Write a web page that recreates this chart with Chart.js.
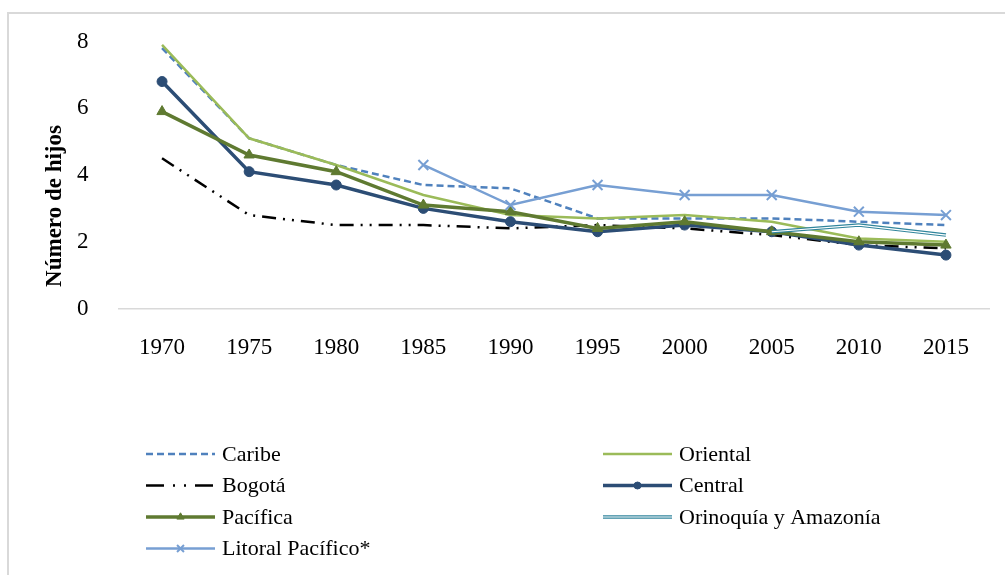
<!DOCTYPE html>
<html>
<head>
<meta charset="utf-8">
<script src="https://cdn.jsdelivr.net/npm/chart.js@4.4.1/dist/chart.umd.min.js"></script>
<style>
    html, body { margin: 0; padding: 0; background: #fff; overflow: hidden; }
    #frame {
        position: absolute;
        left: 7px;
        top: 12px;
        width: 1020px;
        height: 620px;
        border: 2px solid #d9d9d9;
    }
    #wrap { position: absolute; left: 0; top: 0; width: 1005px; height: 575px; }
</style>
</head>
<body>
<div id="frame"></div>
<div id="wrap"><canvas id="lineChart" width="1005" height="575"></canvas></div>
<script>
const years = ['1970', '1975', '1980', '1985', '1990', '1995', '2000', '2005', '2010', '2015'];
const yTicks = [0, 2, 4, 6, 8];

const caribe    = [7.8, 5.1, 4.3, 3.7, 3.6, 2.7, 2.7, 2.7, 2.6, 2.5];
const oriental  = [7.9, 5.1, 4.3, 3.4, 2.8, 2.7, 2.8, 2.6, 2.1, 2.0];
const bogota    = [4.5, 2.8, 2.5, 2.5, 2.4, 2.5, 2.4, 2.2, 1.9, 1.8];
const central   = [6.8, 4.1, 3.7, 3.0, 2.6, 2.3, 2.5, 2.3, 1.9, 1.6];
const pacifica  = [5.9, 4.6, 4.1, 3.1, 2.9, 2.4, 2.6, 2.3, 2.0, 1.9];
const orinoquia = [null, null, null, null, null, null, null, 2.3, 2.5, 2.2];
const litoral   = [null, null, null, 4.3, 3.1, 3.7, 3.4, 3.4, 2.9, 2.8];

const SERIF = '"Liberation Serif", "Times New Roman", serif';

// legend drawn in two fixed columns like the original
const legendGrid = {
    id: 'legendGrid',
    afterDraw(chart) {
        const ctx = chart.ctx;
        const colX = [146, 603];
        const rowY0 = 454;
        const rowStep = 31.5;
        const sampleLen = 69;
        const items = chart.data.datasets.filter(ds => ds.label);

        items.forEach((ds, i) => {
            const x = colX[i % 2];
            const y = rowY0 + Math.floor(i / 2) * rowStep;

            ctx.save();
            ctx.strokeStyle = ds.borderColor;
            ctx.lineWidth = ds.borderWidth;
            ctx.setLineDash(ds.legendDash || ds.borderDash || []);
            ctx.beginPath();
            ctx.moveTo(x, y);
            ctx.lineTo(x + sampleLen, y);
            ctx.stroke();

            if (ds.innerColor) {
                ctx.strokeStyle = ds.innerColor;
                ctx.lineWidth = 1.2;
                ctx.beginPath();
                ctx.moveTo(x, y);
                ctx.lineTo(x + sampleLen, y);
                ctx.stroke();
            }

            if (ds.pointRadius > 0) {
                ctx.setLineDash([]);
                ctx.fillStyle = ds.pointBackgroundColor || ds.borderColor;
                ctx.strokeStyle = ds.pointBorderColor || ds.borderColor;
                ctx.lineWidth = ds.pointBorderWidth || 1;
                Chart.helpers.drawPoint(ctx, {
                    pointStyle: ds.pointStyle,
                    radius: ds.pointRadius * 0.7,
                    borderWidth: ctx.lineWidth,
                    rotation: 0
                }, x + sampleLen / 2, y);
            }

            ctx.fillStyle = '#000';
            ctx.font = '22px ' + SERIF;
            ctx.textAlign = 'left';
            ctx.textBaseline = 'middle';
            ctx.fillText(ds.label, x + 76, y + 1);
            ctx.restore();
        });
    }
};

// y axis title, placed like the original
const yTitle = {
    id: 'yTitle',
    afterDraw(chart) {
        const ctx = chart.ctx;
        ctx.save();
        ctx.translate(55, 206);
        ctx.rotate(-Math.PI / 2);
        ctx.font = 'bold 23px ' + SERIF;
        ctx.fillStyle = '#000';
        ctx.textAlign = 'center';
        ctx.textBaseline = 'middle';
        ctx.fillText('Número de hijos', 0, 0);
        ctx.restore();
    }
};

const ctxLine = document.getElementById('lineChart');

new Chart(ctxLine, {
    type: 'line',
    data: {
        labels: years,
        datasets: [
            {
                label: 'Caribe',
                data: caribe,
                borderColor: '#4F81BD',
                borderWidth: 2.5,
                borderDash: [7, 4],
                pointRadius: 0,
                order: 7
            },
            {
                label: 'Oriental',
                data: oriental,
                borderColor: '#9BBB59',
                borderWidth: 2.5,
                pointRadius: 0,
                order: 6
            },
            {
                label: 'Bogotá',
                data: bogota,
                borderColor: '#000000',
                borderWidth: 2.5,
                borderDash: [14, 7, 2, 7, 2, 7],
                legendDash: [18, 9, 2, 9, 2, 9],
                pointRadius: 0,
                order: 5
            },
            {
                label: 'Central',
                data: central,
                borderColor: '#2C4D75',
                borderWidth: 3.5,
                pointStyle: 'circle',
                pointRadius: 5,
                pointBackgroundColor: '#2C4D75',
                pointBorderColor: '#2C4D75',
                pointBorderWidth: 1,
                order: 4
            },
            {
                label: 'Pacífica',
                data: pacifica,
                borderColor: '#5F7A31',
                borderWidth: 3.5,
                pointStyle: 'triangle',
                pointRadius: 6,
                pointBackgroundColor: '#5F7A31',
                pointBorderColor: '#5F7A31',
                pointBorderWidth: 1,
                order: 3
            },
            {
                label: 'Orinoquía y Amazonía',
                data: orinoquia,
                borderColor: '#31859C',
                innerColor: '#ffffff',
                borderWidth: 3.5,
                pointRadius: 0,
                order: 2
            },
            {
                // white core of the double line
                label: '',
                data: orinoquia,
                borderColor: '#ffffff',
                borderWidth: 1.2,
                pointRadius: 0,
                order: 1.5
            },
            {
                label: 'Litoral Pacífico*',
                data: litoral,
                borderColor: '#779FD3',
                borderWidth: 2.5,
                pointStyle: 'crossRot',
                pointRadius: 7,
                pointBorderColor: '#779FD3',
                pointBackgroundColor: '#779FD3',
                pointBorderWidth: 2,
                order: 1
            }
        ]
    },
    options: {
        responsive: false,
        animation: false,
        layout: {
            autoPadding: false,
            padding: { left: 0, top: 41.5, right: 15.5, bottom: 0 }
        },
        scales: {
            x: {
                offset: true,
                grid: { display: false, offset: true },
                border: { display: true, color: '#d9d9d9', width: 1.5 },
                ticks: {
                    color: '#000',
                    padding: 18,
                    maxRotation: 0,
                    font: { family: SERIF, size: 23 }
                },
                afterFit(scale) { scale.height = 575 - 308.5; }
            },
            y: {
                min: 0,
                max: 8,
                grid: { display: false },
                border: { display: false },
                afterBuildTicks(scale) { scale.ticks = yTicks.map(v => ({ value: v })); },
                ticks: {
                    color: '#000',
                    padding: 22,
                    font: { family: SERIF, size: 23 }
                },
                afterFit(scale) { scale.width = 118.5; }
            }
        },
        plugins: {
            legend: { display: false },
            tooltip: { enabled: false }
        }
    },
    plugins: [legendGrid, yTitle]
});
</script>
</body>
</html>
